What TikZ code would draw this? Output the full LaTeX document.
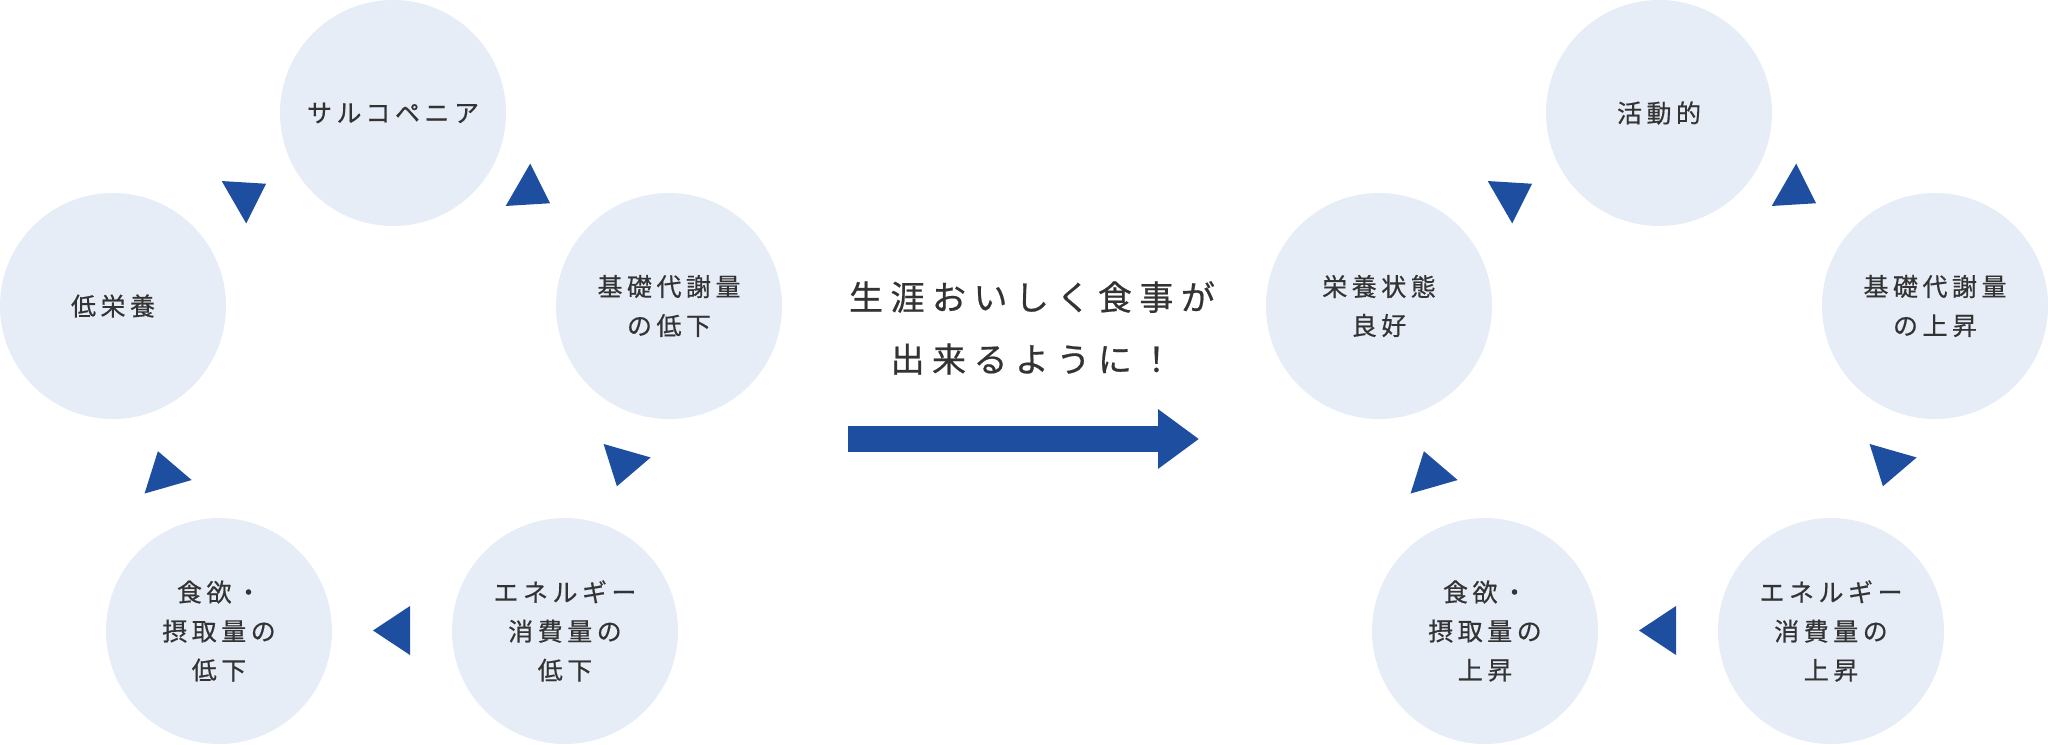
\documentclass[tikz,border=0pt]{standalone}
\usepackage{fontspec}
\usepackage{tikz}
\usetikzlibrary{arrows.meta, positioning}
\newfontfamily\jpfont{Noto Sans CJK JP}[LetterSpace=18, FakeBold=0.5]
\newfontfamily\jptitle{Noto Sans CJK JP}[LetterSpace=22, FakeBold=0.6]
\definecolor{bubblefill}{HTML}{E6EDF6}
\definecolor{flowblue}{HTML}{1D4E9F}
\definecolor{inktext}{HTML}{333333}

\begin{document}
\begin{tikzpicture}[
    x=0.5pt, y=-0.5pt,
    bubble/.style={circle, fill=bubblefill, draw=none, minimum size=113pt, inner sep=0pt,
        align=center, text=inktext, font=\jpfont\fontsize{12.5pt}{19.5pt}\selectfont},
    slogan/.style={align=center, text=inktext, font=\jptitle\fontsize{17pt}{31pt}\selectfont},
    flowtri/.style={fill=flowblue},
    bigflow/.style={-{Triangle[length=20.5pt, width=28.5pt]}, line width=13pt, draw=flowblue}
]
\useasboundingbox (0,0) rectangle (2048,744);

% =====================================================
% VICIOUS CYCLE (LEFT)
% =====================================================
\node[bubble] (sarco)       at (393,113) {サルコペニア};
\node[bubble] (bmrLow)      at (669,306) {基礎代謝量\\の低下};
\node[bubble] (energyLow)   at (565,631) {エネルギー\\消費量の\\低下};
\node[bubble] (appetiteLow) at (219,631) {食欲・\\摂取量の\\低下};
\node[bubble] (lowNutr)     at (113,306) {低栄養};

% =====================================================
% GOOD CYCLE (RIGHT)
% =====================================================
\node[bubble] (active)     at (1659,113) {活動的};
\node[bubble] (bmrUp)      at (1935,306) {基礎代謝量\\の上昇};
\node[bubble] (energyUp)   at (1831,631) {エネルギー\\消費量の\\上昇};
\node[bubble] (appetiteUp) at (1485,631) {食欲・\\摂取量の\\上昇};
\node[bubble] (goodNutr)   at (1379,306) {栄養状態\\良好};

% direction marks between the bubbles (same for both cycles)
\foreach \dx in {0,1266}{
  \foreach \px/\py/\ang in {250/193/30, 534/194/-30, 622/468.5/-106, 391.5/630.5/180, 163/469/106}
    \fill[flowtri, shift={(\px+\dx,\py)}, rotate=\ang] (18.5,0) -- (-18.5,24.5) -- (-18.5,-24.5) -- cycle;
}

% =====================================================
% SLOGAN AND TRANSITION ARROW
% =====================================================
\node[slogan] (slogan) at (1032,328) {生涯おいしく食事が\\出来るように！};

\coordinate (arrowS) at (848,439);
\coordinate (arrowE) at (1199,439);
\draw[bigflow] (arrowS) -- (arrowE);

\end{tikzpicture}
\end{document}
